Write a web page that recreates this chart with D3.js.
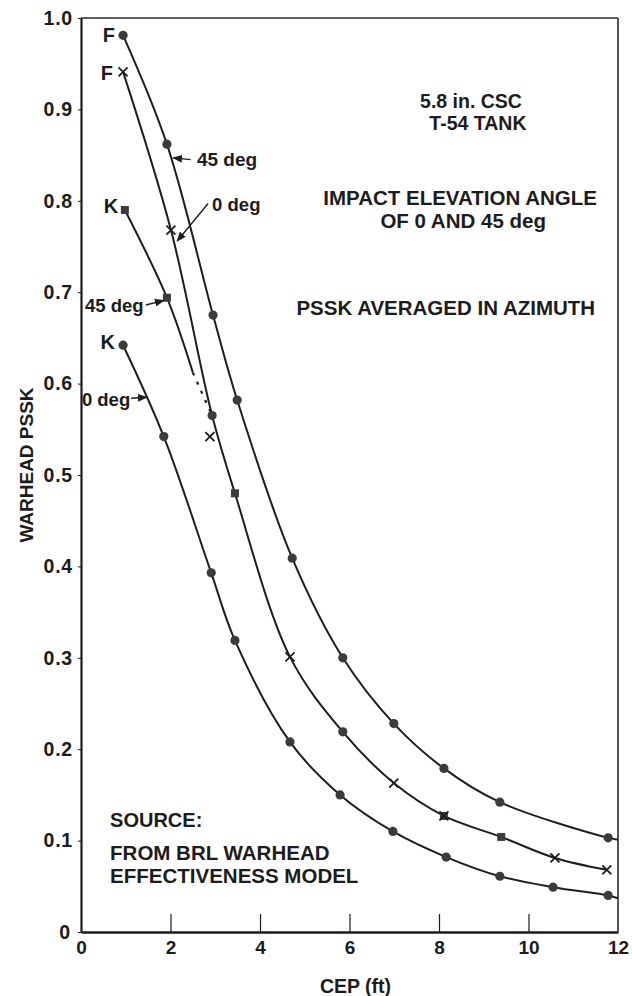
<!DOCTYPE html>
<html>
<head>
<meta charset="utf-8">
<script src="https://cdn.jsdelivr.net/npm/d3@7"></script>
<style>
  body { margin: 0; background: #fff; }
  svg { display: block; }
  text { font-family: "Liberation Sans", Arial, Helvetica, sans-serif; font-weight: bold; fill: #1c1c1c; }
  .axis path, .axis line { stroke: #1c1c1c; }
</style>
</head>
<body>
<svg id="chart"></svg>
<script>
// ---- data ----
const xTicks = [0, 2, 4, 6, 8, 10, 12];
const yTicks = [0, 0.1, 0.2, 0.3, 0.4, 0.5, 0.6, 0.7, 0.8, 0.9, 1.0];

// F, 45 deg (top curve)
const f45 = [
  [0.94, 0.981], [1.92, 0.862], [2.95, 0.675], [3.49, 0.582], [4.72, 0.409],
  [5.85, 0.300], [6.99, 0.228], [8.11, 0.179], [9.36, 0.142], [11.78, 0.103], [12.0, 0.101]
];
const f45Marks = ["circle", "circle", "circle", "circle", "circle", "circle", "circle", "circle", "circle", "circle", "none"];

// F, 0 deg (middle curve)
const f0 = [
  [0.94, 0.941], [2.01, 0.768], [2.93, 0.565], [3.44, 0.480], [4.67, 0.301],
  [5.85, 0.219], [6.99, 0.163], [8.11, 0.127], [9.39, 0.104], [10.59, 0.081], [11.75, 0.068]
];
const f0Marks = ["cross", "cross", "circle", "square", "cross", "circle", "cross", "crossSquare", "square", "cross", "cross"];
const f0Extra = [[2.88, 0.542]];

// K, 45 deg (solid part, then dotted to the middle curve)
const k45 = [[0.98, 0.790], [1.92, 0.694], [2.50, 0.612]];
const k45Marks = ["square", "square", "none"];
const k45Dotted = [[2.50, 0.612], [2.93, 0.565]];

// K, 0 deg (bottom curve)
const k0 = [
  [0.94, 0.642], [1.85, 0.542], [2.91, 0.393], [3.44, 0.319], [4.67, 0.208],
  [5.79, 0.150], [6.97, 0.110], [8.16, 0.082], [9.36, 0.061], [10.55, 0.049], [11.78, 0.040], [12.0, 0.037]
];
const k0Marks = ["circle", "circle", "circle", "circle", "circle", "circle", "circle", "circle", "circle", "circle", "circle", "none"];

// curve labels [text, x, y, anchor, size]
const curveLabels = [
  ["F", 0.76, 0.974, "end", 20],
  ["F", 0.715, 0.932, "end", 20],
  ["K", 0.83, 0.787, "end", 20],
  ["K", 0.76, 0.638, "end", 20],
  ["45 deg", 2.59, 0.838, "start", 19],
  ["0 deg", 2.93, 0.789, "start", 18.5],
  ["45 deg", 0.09, 0.678, "start", 18.5],
  ["0 deg", 0.02, 0.575, "start", 18.5]
];
// leader arrows [x1, y1, x2, y2]
const leaders = [
  [2.45, 0.845, 2.06, 0.847],
  [2.84, 0.797, 2.15, 0.756],
  [1.45, 0.686, 1.85, 0.691],
  [1.12, 0.584, 1.47, 0.585]
];
// notes [text, x, y, anchor, size]
const notes = [
  ["5.8 in. CSC", 8.715, 0.902, "middle", 19.5],
  ["T-54 TANK", 8.87, 0.877, "middle", 19.5],
  ["IMPACT ELEVATION ANGLE", 11.53, 0.795, "end", 20.5],
  ["OF 0 AND 45 deg", 8.54, 0.770, "middle", 20.5],
  ["PSSK AVERAGED IN AZIMUTH", 11.49, 0.675, "end", 20.5],
  ["SOURCE:", 0.65, 0.115, "start", 20],
  ["FROM BRL WARHEAD", 0.65, 0.079, "start", 20.5],
  ["EFFECTIVENESS MODEL", 0.65, 0.054, "start", 20.5]
];

const width = 632, height = 996;

const svg = d3.select("#chart")
  .attr("width", width)
  .attr("height", height);

const x = d3.scaleLinear().domain([0, 12]).range([81, 618]);
const y = d3.scaleLinear().domain([0, 1]).range([932, 18]);

// frame (top and right)
svg.append("line")
  .attr("x1", x(0)).attr("x2", x(12)).attr("y1", y(1)).attr("y2", y(1))
  .attr("stroke", "#2a2a2a").attr("stroke-width", 1.6);
svg.append("line")
  .attr("x1", x(12)).attr("x2", x(12)).attr("y1", y(1)).attr("y2", y(0))
  .attr("stroke", "#2a2a2a").attr("stroke-width", 1.6);

// axes
const xAxis = d3.axisBottom(x)
  .tickValues(xTicks)
  .tickSizeInner(-18)
  .tickSizeOuter(0)
  .tickPadding(8)
  .tickFormat(d3.format("d"));

const yAxis = d3.axisLeft(y)
  .tickValues(yTicks)
  .tickSizeInner(3)
  .tickSizeOuter(0)
  .tickPadding(5)
  .tickFormat(d => d === 0 ? "0" : d3.format(".1f")(d));

const xAxisG = svg.append("g")
  .attr("class", "axis x-axis")
  .attr("transform", `translate(0,${y(0)})`)
  .call(xAxis);
xAxisG.select(".domain").attr("stroke-width", 2.6);
xAxisG.selectAll(".tick line").attr("stroke-width", 1.2);
xAxisG.selectAll(".tick text")
  .attr("font-size", 19).attr("dy", "0.72em");
xAxisG.selectAll(".tick").filter(d => d === 0 || d === 12).select("line").remove();

const yAxisG = svg.append("g")
  .attr("class", "axis y-axis")
  .attr("transform", `translate(${x(0)},0)`)
  .call(yAxis);
yAxisG.select(".domain").attr("stroke-width", 2.2);
yAxisG.selectAll(".tick text")
  .attr("font-size", 19.5).attr("letter-spacing", 0.8);
yAxisG.selectAll(".tick text").filter(d => d === 0).attr("x", -10);

svg.selectAll("text").style("fill", "#1c1c1c").attr("font-weight", "bold")
  .attr("font-family", "'Liberation Sans', Arial, sans-serif");

// axis titles
svg.append("text")
  .attr("x", (x(0) + x(12)) / 2 + 6)
  .attr("y", 993)
  .attr("text-anchor", "middle")
  .attr("font-size", 19.5)
  .text("CEP (ft)");

svg.append("text")
  .attr("transform", `translate(33,${y(0.5) - 10}) rotate(-90)`)
  .attr("text-anchor", "middle")
  .attr("font-size", 19)
  .text("WARHEAD PSSK");

// curves
const line = d3.line()
  .x(d => x(d[0]))
  .y(d => y(d[1]))
  .curve(d3.curveCatmullRom.alpha(0.5));

const series = [
  { pts: f45, marks: f45Marks },
  { pts: f0, marks: f0Marks },
  { pts: k45, marks: k45Marks },
  { pts: k0, marks: k0Marks }
];

svg.selectAll(".curve")
  .data(series)
  .join("path")
  .attr("class", "curve")
  .attr("d", d => line(d.pts))
  .attr("fill", "none")
  .attr("stroke", "#1e1e1e")
  .attr("stroke-width", 2);

svg.append("path")
  .attr("d", d3.line().x(d => x(d[0])).y(d => y(d[1]))(k45Dotted))
  .attr("fill", "none")
  .attr("stroke", "#1e1e1e")
  .attr("stroke-width", 2.2)
  .attr("stroke-dasharray", "3,7");

// markers
const markFill = "#3b3b3b";
function drawMark(g, type, px, py) {
  if (type === "circle") {
    g.append("circle").attr("cx", px).attr("cy", py).attr("r", 4.6).attr("fill", markFill);
  }
  if (type === "square" || type === "crossSquare") {
    g.append("rect").attr("x", px - 4).attr("y", py - 4).attr("width", 8).attr("height", 8).attr("fill", markFill);
  }
  if (type === "cross" || type === "crossSquare") {
    const s = 4.5;
    g.append("path")
      .attr("d", `M${px - s},${py - s}L${px + s},${py + s}M${px - s},${py + s}L${px + s},${py - s}`)
      .attr("stroke", "#1e1e1e").attr("stroke-width", 1.8).attr("fill", "none");
  }
}

const markG = svg.append("g").attr("class", "marks");
series.forEach(s => {
  s.pts.forEach((p, i) => drawMark(markG, s.marks[i], x(p[0]), y(p[1])));
});
f0Extra.forEach(p => drawMark(markG, "cross", x(p[0]), y(p[1])));

// arrow head
svg.append("defs").append("marker")
  .attr("id", "arrow")
  .attr("viewBox", "0 0 10 10")
  .attr("refX", 9).attr("refY", 5)
  .attr("markerWidth", 7).attr("markerHeight", 7)
  .attr("orient", "auto")
  .append("path")
  .attr("d", "M0,1L10,5L0,9Z")
  .attr("fill", "#1e1e1e");

svg.selectAll(".leader")
  .data(leaders)
  .join("line")
  .attr("class", "leader")
  .attr("x1", d => x(d[0])).attr("y1", d => y(d[1]))
  .attr("x2", d => x(d[2])).attr("y2", d => y(d[3]))
  .attr("stroke", "#1e1e1e")
  .attr("stroke-width", 1.4)
  .attr("marker-end", "url(#arrow)");

// labels
svg.selectAll(".curve-label")
  .data(curveLabels)
  .join("text")
  .attr("class", "curve-label")
  .attr("x", d => x(d[1]))
  .attr("y", d => y(d[2]))
  .attr("text-anchor", d => d[3])
  .attr("font-size", d => d[4])
  .text(d => d[0]);

svg.selectAll(".note")
  .data(notes)
  .join("text")
  .attr("class", "note")
  .attr("x", d => x(d[1]))
  .attr("y", d => y(d[2]))
  .attr("text-anchor", d => d[3])
  .attr("font-size", d => d[4])
  .text(d => d[0]);
</script>
</body>
</html>
